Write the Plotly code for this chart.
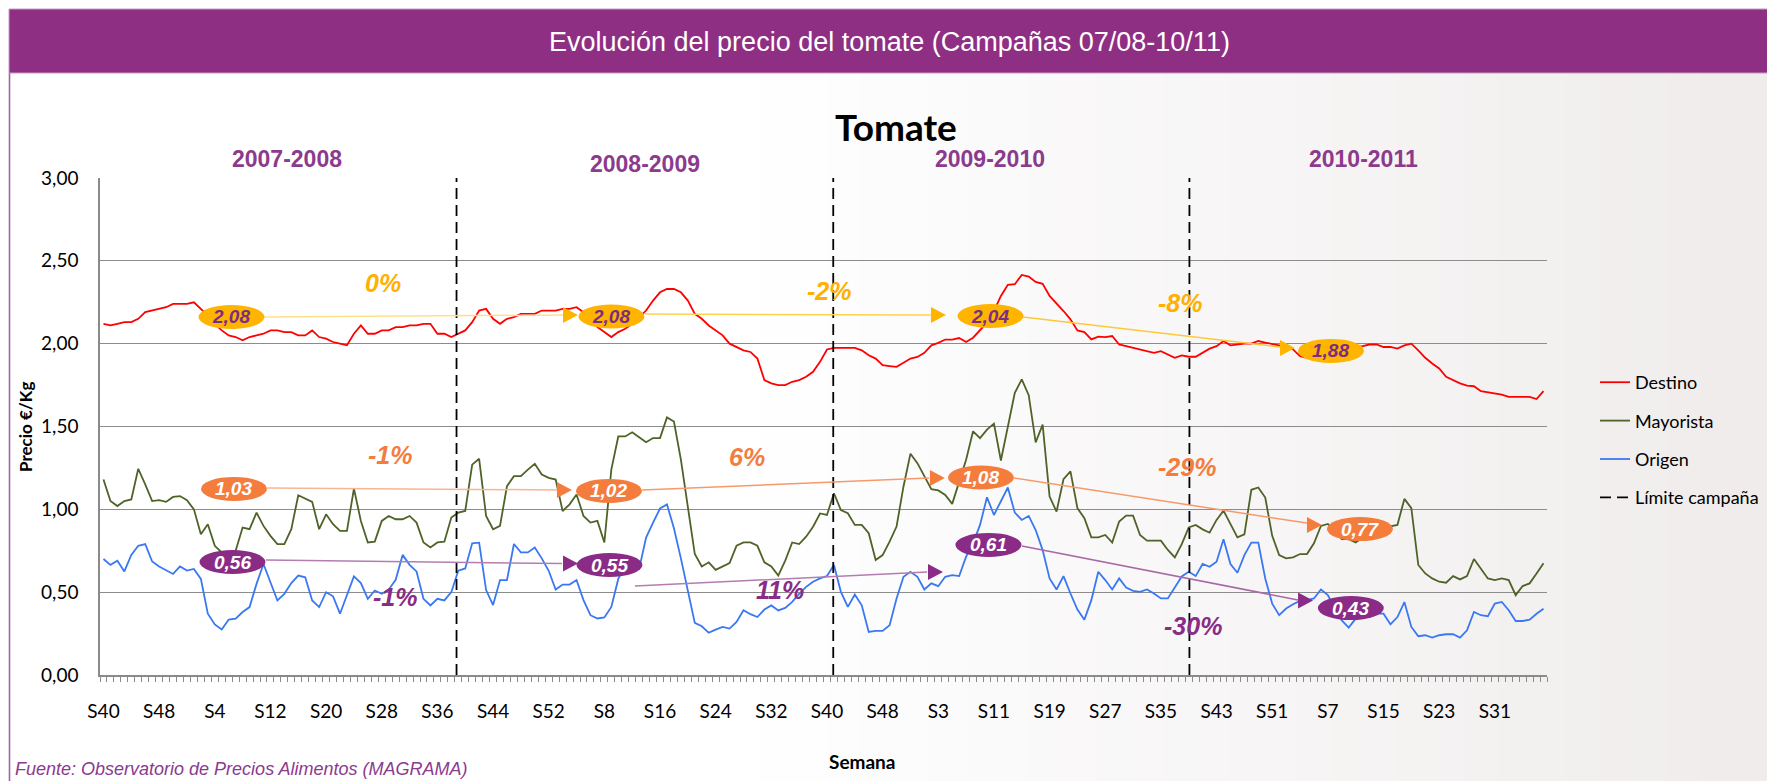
import plotly.graph_objects as go

# ---------------- data ----------------
tick_labels = ["S40", "S48", "S4", "S12", "S20", "S28", "S36", "S44", "S52", "S8", "S16", "S24", "S32",
               "S40", "S48", "S3", "S11", "S19", "S27", "S35", "S43", "S51", "S7", "S15", "S23", "S31"]

destino = [
    2.12, 2.11, 2.12, 2.13, 2.13, 2.15, 2.19, 2.20, 2.21, 2.22, 2.24, 2.24, 2.24, 2.25,
    2.21, 2.17, 2.12, 2.08, 2.05, 2.04, 2.02, 2.04, 2.05, 2.06, 2.08, 2.08, 2.07, 2.07,
    2.05, 2.05, 2.08, 2.04, 2.03, 2.01, 2.00, 1.99, 2.06, 2.11, 2.06, 2.06, 2.08, 2.08,
    2.10, 2.10, 2.11, 2.11, 2.12, 2.12, 2.06, 2.06, 2.04, 2.06,
    2.08, 2.13, 2.20, 2.21, 2.15, 2.12, 2.15, 2.16, 2.18, 2.18, 2.18, 2.20, 2.20, 2.20,
    2.21, 2.21, 2.22, 2.19, 2.15, 2.10, 2.07, 2.04, 2.07, 2.09, 2.12, 2.16, 2.20, 2.26,
    2.31, 2.33, 2.33, 2.31, 2.26, 2.18, 2.15, 2.11, 2.08, 2.05, 2.00, 1.98, 1.96, 1.95,
    1.91, 1.78, 1.76, 1.75, 1.75, 1.77, 1.78, 1.80, 1.83, 1.89,
    1.965, 1.975, 1.975, 1.975, 1.975, 1.96, 1.93, 1.91, 1.87, 1.865, 1.86, 1.885, 1.91, 1.92,
    1.945, 1.99, 2.005, 2.025, 2.025, 2.034, 2.01, 2.036, 2.08, 2.127, 2.197, 2.288, 2.355, 2.359,
    2.415, 2.405, 2.373, 2.361, 2.288, 2.244, 2.197, 2.147, 2.08, 2.07, 2.026, 2.042, 2.04, 2.046,
    1.995, 1.985, 1.975, 1.965, 1.955, 1.945, 1.955, 1.935,
    1.915, 1.929, 1.921, 1.921, 1.945, 1.97, 1.985, 2.016, 1.99, 1.995, 2.0, 2.0, 2.016, 2.006,
    2.0, 1.99, 1.98, 1.965, 1.925, 1.915,
    1.92, 1.93, 1.94, 1.95, 1.96, 1.97,
    1.98, 1.985, 1.995, 1.995, 1.98, 1.98, 1.97, 1.99, 2.0, 1.96, 1.915, 1.88, 1.85, 1.80,
    1.778, 1.76, 1.747, 1.743, 1.713, 1.707, 1.703, 1.693, 1.679, 1.679, 1.679, 1.679, 1.666, 1.713,
]

mayorista = [
    1.18, 1.05, 1.02, 1.05, 1.06, 1.245, 1.15, 1.05, 1.055, 1.045,
    1.075, 1.08, 1.055, 1.0, 0.85, 0.91, 0.78, 0.74, 0.72, 0.75,
    0.89, 0.88, 0.98, 0.90, 0.84, 0.79, 0.79, 0.88, 1.085, 1.065,
    1.045, 0.88, 0.97, 0.91, 0.87, 0.87, 1.125, 0.93, 0.80, 0.805,
    0.93, 0.96, 0.94, 0.94, 0.96, 0.92, 0.80, 0.77, 0.80, 0.805,
    0.95, 0.98,
    0.99, 1.27, 1.305, 0.96, 0.88, 0.90, 1.14, 1.20, 1.20, 1.24,
    1.275, 1.21, 1.19, 1.18, 0.99, 1.03, 1.09, 0.96, 0.92, 0.93,
    0.80, 1.24, 1.44, 1.44, 1.465, 1.435, 1.405, 1.43, 1.43, 1.555,
    1.53, 1.30, 1.02, 0.73, 0.655, 0.68, 0.635, 0.655, 0.675, 0.78,
    0.80, 0.80, 0.78, 0.68, 0.655, 0.60, 0.69, 0.80, 0.79, 0.835,
    0.895, 0.975,
    0.966, 1.097, 0.996, 0.976, 0.906, 0.906, 0.856, 0.694, 0.724, 0.805,
    0.896, 1.138, 1.336, 1.279, 1.198, 1.122, 1.114, 1.087, 1.033, 1.168,
    1.299, 1.471, 1.430, 1.481, 1.517, 1.295, 1.501, 1.703, 1.784, 1.689,
    1.404, 1.511, 1.077, 0.986, 1.182, 1.229, 1.007, 0.946, 0.831, 0.831,
    0.845, 0.799, 0.926, 0.962, 0.962, 0.845, 0.811, 0.811, 0.811, 0.755,
    0.71, 0.79, 0.891, 0.906, 0.879, 0.859, 0.936, 0.992, 0.912, 0.831,
    0.849, 1.118, 1.132, 1.071, 0.84, 0.724, 0.704, 0.71, 0.73, 0.73,
    0.795, 0.90, 0.912, 0.87, 0.82, 0.82, 0.80, 0.83, 0.86, 0.88,
    0.89, 0.90, 0.906, 1.063, 1.007, 0.664, 0.613, 0.583, 0.563, 0.557,
    0.597, 0.577, 0.597, 0.70, 0.643, 0.583, 0.573, 0.583, 0.573, 0.482,
    0.537, 0.553, 0.613, 0.674,
]

origen = [
    0.70, 0.665, 0.69, 0.625, 0.725, 0.78, 0.79, 0.685, 0.655, 0.635,
    0.61, 0.655, 0.63, 0.64, 0.58, 0.37, 0.305, 0.275, 0.335, 0.34,
    0.38, 0.41, 0.55, 0.67, 0.555, 0.45, 0.49, 0.555, 0.60, 0.59,
    0.45, 0.41, 0.50, 0.475, 0.37, 0.485, 0.595, 0.555, 0.46, 0.51,
    0.49, 0.515, 0.575, 0.725, 0.665, 0.625, 0.46, 0.42, 0.46, 0.45,
    0.50, 0.63,
    0.643, 0.795, 0.799, 0.513, 0.422, 0.573, 0.573, 0.791, 0.74, 0.74,
    0.769, 0.704, 0.629, 0.516, 0.546, 0.546, 0.573, 0.452, 0.361, 0.341,
    0.347, 0.411, 0.58, 0.66, 0.64, 0.64, 0.83, 0.92, 1.005, 1.03,
    0.886, 0.704, 0.512, 0.315, 0.294, 0.255, 0.274, 0.29, 0.28, 0.32,
    0.391, 0.367, 0.35, 0.395, 0.42, 0.39, 0.405, 0.441, 0.49, 0.532,
    0.563, 0.583,
    0.597, 0.664, 0.502, 0.411, 0.486, 0.421, 0.26, 0.266, 0.266, 0.30,
    0.462, 0.593, 0.623, 0.593, 0.516, 0.553, 0.536, 0.593, 0.603, 0.597,
    0.714, 0.795, 0.906, 1.073, 0.966, 1.047, 1.132, 0.98, 0.936, 0.96,
    0.875, 0.754, 0.583, 0.516, 0.597, 0.492, 0.395, 0.334, 0.452, 0.623,
    0.573, 0.516, 0.583, 0.528, 0.508, 0.502, 0.516, 0.492, 0.462, 0.462,
    0.532, 0.595, 0.623, 0.597, 0.67, 0.653, 0.684, 0.819, 0.67, 0.617,
    0.724, 0.799, 0.799, 0.583, 0.431, 0.361, 0.401, 0.427, 0.447, 0.452,
    0.462, 0.516, 0.482, 0.40, 0.33, 0.286, 0.34, 0.35, 0.35, 0.37,
    0.37, 0.306, 0.35, 0.44, 0.29, 0.234, 0.24, 0.226, 0.24, 0.246,
    0.246, 0.226, 0.27, 0.381, 0.361, 0.355, 0.431, 0.441, 0.391, 0.326,
    0.326, 0.334, 0.37, 0.40,
]

campaigns = ["2007-2008", "2008-2009", "2009-2010", "2010-2011"]
campaign_limits = [50.75, 104.9, 156.1]   # week index where dashed limit is drawn

# average labels per campaign (text shown in the ovals)
avg_destino = ["2,08", "2,08", "2,04", "1,88"]
avg_mayorista = ["1,03", "1,02", "1,08", "0,77"]
avg_origen = ["0,56", "0,55", "0,61", "0,43"]
pct_destino = ["0%", "-2%", "-8%"]
pct_mayorista = ["-1%", "6%", "-29%"]
pct_origen = ["-1%", "11%", "-30%"]

# ---------------- geometry helpers ----------------
W, H = 1767, 781
L, R, T, B = 100, 1547, 178, 675


def px(X):
    return (X - L) / (R - L)


def py(Y):
    return (B - Y) / (B - T)


n = len(destino)
idx = list(range(n))

C_RED = "#FF0000"
C_GREEN = "#4F6228"
C_BLUE = "#3A78F2"
C_YEL = "#FFB400"
C_ORA = "#F47D3E"
C_PUR = "#8A2C86"
C_TXTPUR = "#8B3A8E"

fig = go.Figure()
fig.add_trace(go.Scatter(x=idx, y=destino, mode="lines", name="Destino", legendgroup="g1",
                         line=dict(color=C_RED, width=1.8)))
fig.add_trace(go.Scatter(x=idx, y=mayorista, mode="lines", name="Mayorista", legendgroup="g2",
                         line=dict(color=C_GREEN, width=1.8)))
fig.add_trace(go.Scatter(x=idx, y=origen, mode="lines", name="Origen", legendgroup="g3",
                         line=dict(color=C_BLUE, width=1.8)))
lx, ly = [], []
for c in campaign_limits:
    lx += [c, c, None]
    ly += [0, 3, None]
fig.add_trace(go.Scatter(x=lx, y=ly, mode="lines", name="Límite campaña", legendgroup="g4",
                         line=dict(color="black", width=1.8, dash="11px,6px")))

shapes = []
# soft textured background on the right side (approximated by a gradient)
nstrips = 30
x_start = 760
for k in range(nstrips):
    a = x_start + (W - x_start) * k / nstrips
    b = x_start + (W - x_start) * (k + 1) / nstrips + 1
    f = (k + 0.5) / nstrips
    r_ = int(255 - 15 * f)
    g_ = int(255 - 19 * f)
    b_ = int(255 - 19 * f)
    shapes.append(dict(type="rect", xref="paper", yref="paper", x0=px(a), x1=px(b), y0=py(H), y1=py(73),
                       fillcolor=f"rgb({r_},{g_},{b_})", line=dict(width=0), layer="below"))
# header bar
shapes.append(dict(type="rect", xref="paper", yref="paper", x0=px(9), x1=px(W + 2), y0=py(73), y1=py(9),
                   fillcolor="#8E2F84", line=dict(color="#C79BC4", width=1), layer="below"))
# left border
shapes.append(dict(type="line", xref="paper", yref="paper", x0=px(9.5), x1=px(9.5), y0=py(73), y1=py(H),
                   line=dict(color="#A563A3", width=1.6), layer="below"))


def conn(x0, y0, x1, y1, color):
    shapes.append(dict(type="line", xref="x", yref="y", x0=x0, y0=y0, x1=x1, y1=y1,
                       line=dict(color=color, width=1.5), layer="above"))


def tri(tx, ty, color):
    shapes.append(dict(type="path", xref="x", yref="y", xsizemode="pixel", ysizemode="pixel",
                       xanchor=tx, yanchor=ty, path="M -15,-8 L 0,0 L -15,8 Z",
                       fillcolor=color, line=dict(width=0), layer="above"))


def oval(cx, cy, color):
    shapes.append(dict(type="circle", xref="x", yref="y", xsizemode="pixel", ysizemode="pixel",
                       xanchor=cx, yanchor=cy, x0=-33, x1=33, y0=-12, y1=12,
                       fillcolor=color, line=dict(width=0), layer="above"))


annotations = []


def txt(x, y, text, size, color, family="Liberation Sans", xref="x", yref="y", xanchor="center", **kw):
    annotations.append(dict(x=x, y=y, xref=xref, yref=yref, text=text, showarrow=False,
                            xanchor=xanchor, yanchor="middle",
                            font=dict(family=family, size=size, color=color), **kw))


# Destino annotations
conn(23.07, 2.161, 66.2, 2.173, "#FFE08A")
conn(77.83, 2.179, 118.93, 2.173, "#FFD24D")
conn(132.17, 2.161, 169.12, 1.98, "#FFC83A")
tri(68.21, 2.173, C_YEL)
tri(121.10, 2.173, C_YEL)
tri(171.28, 1.974, C_YEL)
oval_pos_d = [(18.40, 2.161), (73.02, 2.164), (127.50, 2.167), (176.45, 1.956)]
for (cx, cy), t in zip(oval_pos_d, avg_destino):
    oval(cx, cy, C_YEL)
    txt(cx, cy, f"<b><i>{t}</i></b>", 19, "#7B2C83")

# Mayorista annotations
conn(23.5, 1.129, 65.19, 1.117, "#F9B493")
conn(77.41, 1.117, 118.66, 1.189, "#F69A6C")
conn(130.87, 1.189, 172.99, 0.917, "#F69A6C")
tri(67.34, 1.117, C_ORA)
tri(120.95, 1.189, C_ORA)
tri(175.15, 0.905, C_ORA)
oval_pos_m = [(18.76, 1.123), (72.66, 1.111), (126.13, 1.192), (180.61, 0.881)]
for (cx, cy), t in zip(oval_pos_m, avg_mayorista):
    oval(cx, cy, C_ORA)
    txt(cx, cy, f"<b><i>{t}</i></b>", 19, "white")

# Origen annotations
conn(23.36, 0.694, 65.9, 0.673, "#B37DB0")
conn(76.4, 0.537, 118.4, 0.622, "#B37DB0")
conn(132.02, 0.779, 171.7, 0.453, "#A868A6")
tri(68.21, 0.673, C_PUR)
tri(120.68, 0.622, C_PUR)
tri(173.87, 0.450, C_PUR)
oval_pos_o = [(18.54, 0.682), (72.73, 0.664), (127.21, 0.785), (179.3, 0.404)]
for (cx, cy), t in zip(oval_pos_o, avg_origen):
    oval(cx, cy, C_PUR)
    txt(cx, cy, f"<b><i>{t}</i></b>", 19, "white")

# percentage changes
for (x, y), t in zip([(40.18, 2.366), (104.28, 2.318), (154.74, 2.245)], pct_destino):
    txt(x, y, f"<b><i>{t}</i></b>", 25, "#FFB000")
for (x, y), t in zip([(41.18, 1.328), (92.49, 1.316), (155.75, 1.256)], pct_mayorista):
    txt(x, y, f"<b><i>{t}</i></b>", 25, C_ORA)
for (x, y), t in zip([(41.9, 0.471), (97.24, 0.513), (156.63, 0.296)], pct_origen):
    txt(x, y, f"<b><i>{t}</i></b>", 25, C_PUR)

# campaign names
for (X, Y), t in zip([(287, 159), (645, 164), (989.5, 159), (1363.6, 159)], campaigns):
    txt(px(X), py(Y), f"<b>{t}</b>", 23, C_TXTPUR, xref="paper", yref="paper")

# titles and other texts
txt(px(889), py(42), "Evolución del precio del tomate (Campañas 07/08-10/11)", 27, "white",
    family="Liberation Sans", xref="paper", yref="paper")
txt(px(896), py(126), "<b>Tomate</b>", 37, "black", family="Lato", xref="paper", yref="paper")
txt(px(862), py(761), "<b>Semana</b>", 19, "black", family="Lato", xref="paper", yref="paper")
txt(px(25), py(427), "<b>Precio €/Kg</b>", 17, "black", family="Lato", xref="paper", yref="paper",
    textangle=-90)
txt(px(13), py(769), "<i>Fuente: Observatorio de Precios Alimentos (MAGRAMA)</i>", 18, C_TXTPUR,
    xref="paper", yref="paper", xanchor="left")

fig.update_layout(
    width=W, height=H, autosize=False,
    margin=dict(l=L, r=W - R, t=T, b=H - B, pad=0, autoexpand=False),
    paper_bgcolor="white", plot_bgcolor="rgba(0,0,0,0)",
    separators=",.",
    font=dict(family="Lato", size=18, color="black"),
    showlegend=True,
    legend=dict(x=px(1595), y=py(364), xanchor="left", yanchor="top",
                font=dict(family="Lato", size=18, color="black"),
                bgcolor="rgba(0,0,0,0)", tracegroupgap=12, traceorder="grouped"),
    shapes=shapes,
    annotations=annotations,
    xaxis=dict(range=[-0.5, n - 0.5], tickmode="array",
               tickvals=list(range(0, n, 8)), ticktext=tick_labels,
               ticks="", showgrid=False, zeroline=False,
               showline=True, linecolor="#8A8A8A", linewidth=1.5,
               tickfont=dict(family="Lato", size=19, color="black"),
               ticklabelstandoff=18,
               minor=dict(tick0=-0.5, dtick=1, ticks="outside", ticklen=5,
                          tickcolor="#8A8A8A", tickwidth=1, showgrid=False)),
    yaxis=dict(range=[0, 3], tick0=0, dtick=0.5, tickformat=".2f",
               showgrid=True, gridcolor="#8C8C8C", gridwidth=1.2,
               zeroline=False, showline=True, linecolor="#8A8A8A", linewidth=1.5,
               ticks="", ticklabelstandoff=16,
               tickfont=dict(family="Lato", size=19, color="black")),
)

fig.write_html("out.html", config={"displayModeBar": False},
               post_script="document.body.style.margin='0px';")
